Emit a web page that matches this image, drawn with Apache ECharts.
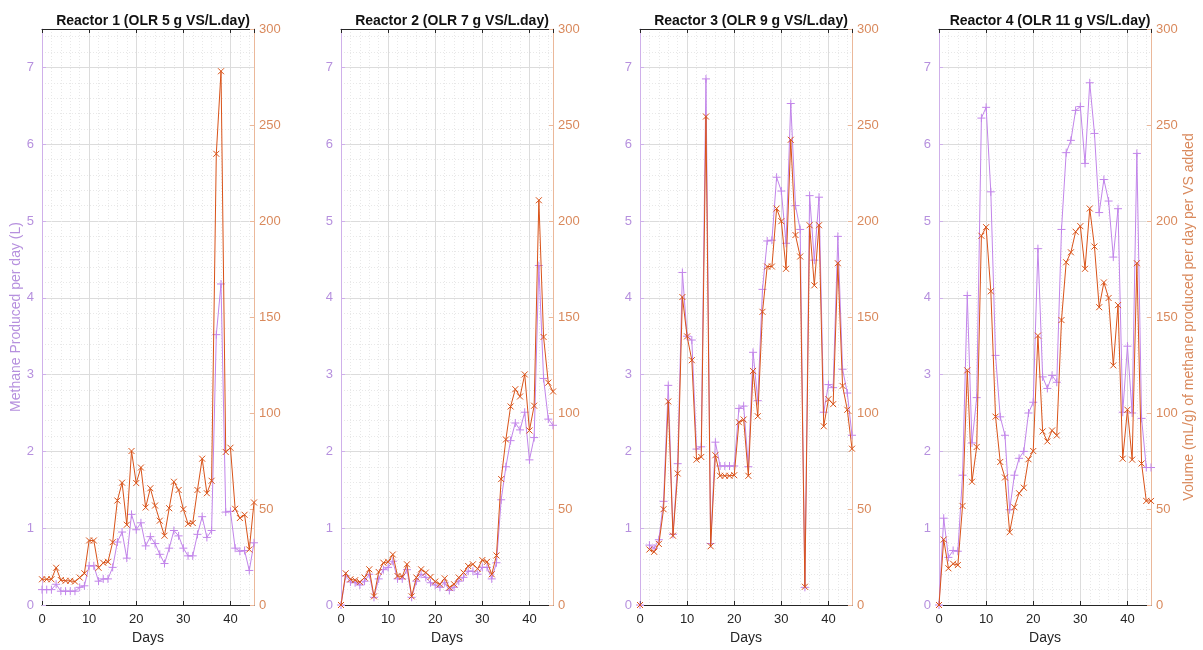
<!DOCTYPE html>
<html>
<head>
<meta charset="utf-8">
<script src="https://cdn.jsdelivr.net/npm/echarts@6/dist/echarts.min.js"></script>
<style>html,body{margin:0;padding:0;background:#fff;}#c{width:1203px;height:650px;}</style>
</head>
<body>
<div id="c"></div>
<script>
const days = [0,1,2,3,4,5,6,7,8,9,10,11,12,13,14,15,16,17,18,19,20,21,22,23,24,25,26,27,28,29,30,31,32,33,34,35,36,37,38,39,40,41,42,43,44,45];

const titles = [
  'Reactor 1 (OLR 5 g VS/L.day)',
  'Reactor 2 (OLR 7 g VS/L.day)',
  'Reactor 3 (OLR 9 g VS/L.day)',
  'Reactor 4 (OLR 11 g VS/L.day)'
];

// Methane produced per day (L) - left axis
const methane1 = [0.2,0.2,0.2,0.27,0.18,0.18,0.18,0.18,0.23,0.25,0.51,0.51,0.31,0.34,0.34,0.49,0.82,0.95,0.61,1.18,0.98,1.07,0.77,0.89,0.8,0.66,0.54,0.74,0.97,0.9,0.74,0.64,0.64,0.92,1.15,0.88,0.97,3.52,4.18,1.21,1.22,0.74,0.7,0.71,0.45,0.81];
const methane2 = [0,0.38,0.3,0.29,0.26,0.31,0.4,0.1,0.34,0.46,0.49,0.57,0.34,0.34,0.46,0.1,0.31,0.4,0.36,0.29,0.26,0.23,0.29,0.19,0.23,0.31,0.36,0.44,0.44,0.4,0.49,0.49,0.34,0.55,1.37,1.8,2.14,2.37,2.28,2.51,1.89,2.18,4.42,2.95,2.42,2.34];
const methane3 = [0,null,0.78,0.74,0.85,1.35,2.86,0.92,1.84,4.33,3.5,3.45,2.03,2.06,6.85,0.8,2.12,1.81,1.81,1.81,1.81,2.56,2.59,1.8,3.29,2.66,4.11,4.74,4.75,5.57,5.39,4.71,6.53,5.2,4.89,0.23,5.33,4.49,5.31,2.51,2.87,2.83,4.8,3.07,2.76,2.21];
const methane4 = [0,1.13,0.62,0.71,0.7,1.69,4.03,2.11,2.7,6.34,6.48,5.38,3.25,2.45,2.21,1.24,1.69,1.91,2.0,2.5,2.64,4.64,2.97,2.82,2.99,2.9,4.89,5.89,6.05,6.44,6.49,5.75,6.8,6.14,5.11,5.54,5.26,4.53,5.16,2.51,3.37,2.5,5.88,2.43,1.79,1.79];

// Volume (mL/g) of methane per day per VS added - right axis
const volume1 = [13.4,13.4,13.4,19.4,13,12.6,12.6,12.2,14.3,16.5,33.6,33.6,19.4,22,22.5,32.7,54.4,63.7,41.8,80.2,63.5,71.6,50.8,60.8,51.8,43.9,36.1,50.4,64.2,59.9,49.9,42.3,42.7,59.9,76.2,58.2,64.7,235,278,79.7,81.9,50.1,45.3,47,28.9,53.4];
const volume2 = [0,16.5,13.4,12.9,12,14.3,18.6,4.5,17.2,22,22.5,26.3,15.1,14.8,21.2,4.5,14.3,18.6,16.9,14.6,12.2,10.8,13.9,9.1,10.8,14.3,16.9,20.3,21.2,18.9,23.4,22.5,16,25.8,65.6,86.2,103.4,112.4,108.6,120.1,90.9,103.8,210.8,139.6,115.8,111.2];
const volume3 = [0,null,28.9,27.7,31.8,49.9,106,36.1,68.5,160.4,139.9,127.5,75.7,77.1,254.4,30.6,78,67.3,67.3,67.3,67.6,95.2,96.6,67.3,121.9,98.3,152.7,176.3,176.3,206.5,199.9,175.1,242.3,192.7,181.5,9.5,197.8,166.5,197.8,93.1,107.2,104.6,178,114.1,101.7,81.4];
const volume4 = [0,34.1,19.1,21.5,20.8,51.6,122.2,64.2,82.3,192.3,196.8,163.4,98.1,74.5,66.4,37.9,50.9,58.2,61.1,75.9,80.2,140.3,90.4,85.2,90.9,88.3,148.4,178.5,183.7,194.4,197.3,175.1,206.5,186.7,155.1,168,159.9,124.8,156.2,76.2,101.7,75.7,178,73.7,54.2,54.2];

const methaneAll = [methane1, methane2, methane3, methane4];
const volumeAll = [volume1, volume2, volume3, volume4];

const leftName = 'Methane Produced per day (L)';
const rightName = 'Volume (mL/g) of methane produced per day per VS added';

const PURPLE = '#c285ea';
const ORANGE = '#d95319';
const PURPLE_TXT = '#b690de';
const ORANGE_TXT = '#d9895c';
const FONT = '"Liberation Sans", Arial, Helvetica, sans-serif';

const lefts = [42, 341, 640, 939];
const W = 212, TOP = 29, H = 580;

const plusPath = 'path://M5,0L5,10M0,5L10,5';
const crossPath = 'path://M0,0L10,10M10,0L0,10';

const option = {
  animation: false,
  backgroundColor: '#fff',
  textStyle: { fontFamily: FONT },
  title: [], grid: [], xAxis: [], yAxis: [], series: []
};

for (let i = 0; i < 4; i++) {
  option.title.push({
    text: titles[i], left: lefts[i] + W / 2, top: 9, textAlign: 'center',
    textStyle: { fontSize: 14, fontWeight: 'bold', color: '#111', fontFamily: FONT }
  });
  option.grid.push({ left: lefts[i], top: TOP, width: W, height: H, containLabel: false });
  // bottom x axis
  option.xAxis.push({
    type: 'value', gridIndex: i, min: 0, max: 45, interval: 10, position: 'bottom',
    name: 'Days', nameLocation: 'middle', nameGap: 26,
    nameTextStyle: { fontSize: 14, color: '#262626', fontFamily: FONT },
    axisLine: { show: true, onZero: false, lineStyle: { color: '#262626', width: 1 } },
    axisTick: { show: true, inside: true, length: 4, lineStyle: { color: '#262626' } },
    axisLabel: { fontSize: 13, color: '#262626', margin: 8, showMaxLabel: false, fontFamily: FONT },
    splitLine: { show: true, lineStyle: { color: '#dcdcdc', width: 1 } },
    minorTick: { show: false, splitNumber: 5 },
    minorSplitLine: { show: true, lineStyle: { color: '#e8e8e8', width: 1, type: [1, 2] } }
  });
  // top x axis (box)
  option.xAxis.push({
    type: 'value', gridIndex: i, min: 0, max: 45, interval: 10, position: 'top',
    axisLine: { show: true, onZero: false, lineStyle: { color: '#262626', width: 1 } },
    axisTick: { show: true, inside: true, length: 4, lineStyle: { color: '#262626' } },
    axisLabel: { show: false },
    splitLine: { show: false }
  });
  // left y axis
  option.yAxis.push({
    type: 'value', gridIndex: i, min: 0, max: 7.5, interval: 1, position: 'left',
    name: i === 0 ? leftName : '', nameLocation: 'middle', nameGap: 14, nameRotate: 90,
    nameTextStyle: { fontSize: 14, color: PURPLE_TXT, fontFamily: FONT },
    axisLine: { show: true, onZero: false, lineStyle: { color: '#cfb0ea', width: 1 } },
    axisTick: { show: true, inside: true, length: 4, lineStyle: { color: '#cfb0ea' } },
    axisLabel: { fontSize: 13, color: PURPLE_TXT, margin: 8, showMaxLabel: false, fontFamily: FONT },
    splitLine: { show: true, lineStyle: { color: '#dcdcdc', width: 1 } },
    minorTick: { show: false, splitNumber: 5 },
    minorSplitLine: { show: true, lineStyle: { color: '#e8e8e8', width: 1, type: [1, 2] } }
  });
  // right y axis
  option.yAxis.push({
    type: 'value', gridIndex: i, min: 0, max: 300, interval: 50, position: 'right',
    name: i === 3 ? rightName : '', nameLocation: 'middle', nameGap: 31, nameRotate: 90,
    nameTextStyle: { fontSize: 14, color: ORANGE_TXT, fontFamily: FONT },
    axisLine: { show: true, onZero: false, lineStyle: { color: '#ebb89a', width: 1 } },
    axisTick: { show: true, inside: true, length: 4, lineStyle: { color: '#ebb89a' } },
    axisLabel: { fontSize: 13, color: ORANGE_TXT, margin: 5, fontFamily: FONT },
    splitLine: { show: false }
  });

  const m = methaneAll[i], v = volumeAll[i];
  option.series.push({
    type: 'line', xAxisIndex: i * 2, yAxisIndex: i * 2,
    data: days.map((d, k) => [d, m[k]]),
    symbol: plusPath, symbolSize: 8, showSymbol: true, connectNulls: false,
    lineStyle: { color: PURPLE, width: 1 },
    itemStyle: { color: PURPLE, borderColor: PURPLE, borderWidth: 1 },
    z: 3
  });
  option.series.push({
    type: 'line', xAxisIndex: i * 2, yAxisIndex: i * 2 + 1,
    data: days.map((d, k) => [d, v[k]]),
    symbol: crossPath, symbolSize: 6, showSymbol: true, connectNulls: false,
    lineStyle: { color: ORANGE, width: 1 },
    itemStyle: { color: ORANGE, borderColor: ORANGE, borderWidth: 1 },
    z: 4
  });
}

const chart = echarts.init(document.getElementById('c'), null, { renderer: 'canvas' });
chart.setOption(option);
</script>
</body>
</html>
